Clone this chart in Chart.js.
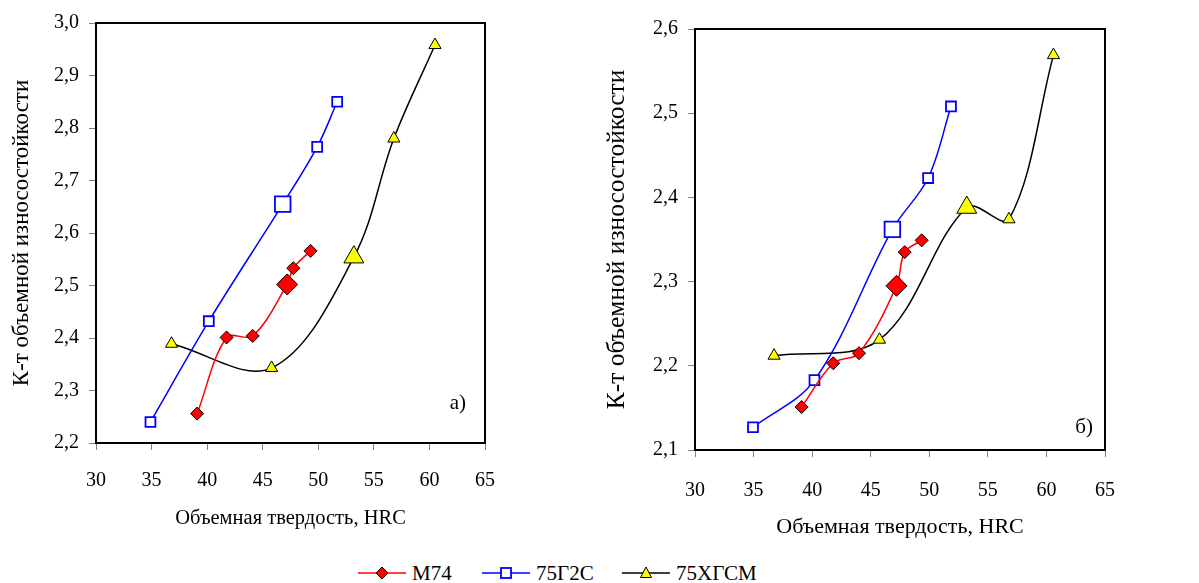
<!DOCTYPE html>
<html>
<head>
<meta charset="utf-8">
<script src="https://cdn.jsdelivr.net/npm/chart.js@4/dist/chart.umd.min.js"></script>
<style>
  body { margin: 0; background: #fff; width: 1199px; height: 583px; position: relative; overflow: hidden; font-family: "Liberation Serif", "Times New Roman", serif; }
  canvas { position: absolute; top: 0; }
  #chart-a { left: 0; }
  #chart-b { left: 600px; }
  .leg { position: absolute; top: 561px; height: 24px; display: flex; align-items: center; font-size: 21px; color: #000; }
  .leg svg { margin-right: 6px; }
</style>
</head>
<body>
<canvas id="chart-a" width="514" height="540"></canvas>
<canvas id="chart-b" width="537" height="550"></canvas>
<div class="leg" style="left:358px"><svg width="48" height="20"><line x1="0" y1="10" x2="48" y2="10" stroke="#ff0000" stroke-width="1.5"/><polygon points="24,4 30,10 24,16 18,10" fill="#ff0000" stroke="#000" stroke-width="1"/></svg>М74</div>
<div class="leg" style="left:482px"><svg width="48" height="20"><line x1="0" y1="10" x2="48" y2="10" stroke="#0000ff" stroke-width="1.5"/><rect x="19" y="5" width="10" height="10" fill="#fff" stroke="#0000ff" stroke-width="1.8"/></svg>75Г2С</div>
<div class="leg" style="left:622px"><svg width="48" height="20"><line x1="0" y1="10" x2="48" y2="10" stroke="#000" stroke-width="1.5"/><polygon points="24,4 29.5,14.5 18.5,14.5" fill="#ffff00" stroke="#000" stroke-width="1"/></svg>75ХГСМ</div>
<script>
// Series names
const seriesNames = ['М74', '75Г2С', '75ХГСМ'];

// Chart a) - HRC values and wear-resistance coefficients
const hrcM74A = [39.1, 41.75, 44.1, 47.2, 47.75, 49.3];
const kM74A = [2.256, 2.401, 2.404, 2.502, 2.533, 2.566];
const hrcG2SA = [34.9, 40.15, 46.8, 49.9, 51.7];
const kG2SA = [2.240, 2.432, 2.655, 2.764, 2.850];
const hrcXGSMA = [36.8, 45.8, 53.2, 56.8, 60.5];
const kXGSMA = [2.389, 2.343, 2.554, 2.780, 2.958];

// Chart б)
const hrcM74B = [39.1, 41.8, 44.0, 47.2, 47.9, 49.35];
const kM74B = [2.151, 2.203, 2.215, 2.295, 2.335, 2.349];
const hrcG2SB = [34.95, 40.2, 46.85, 49.9, 51.85];
const kG2SB = [2.127, 2.183, 2.362, 2.423, 2.508];
const hrcXGSMB = [36.75, 45.75, 53.2, 56.8, 60.6];
const kXGSMB = [2.212, 2.231, 2.388, 2.374, 2.569];

// index of the enlarged point in each series
const bigPoint = [3, 2, 2];

// axis ticks
const xTicks = [30, 35, 40, 45, 50, 55, 60, 65];
const yTicksA = [2.2, 2.3, 2.4, 2.5, 2.6, 2.7, 2.8, 2.9, 3.0];
const yTicksB = [2.1, 2.2, 2.3, 2.4, 2.5, 2.6];

const xTitle = 'Объемная твердость, HRC';
const yTitle = 'К-т объемной износостойкости';

const serif = '"Liberation Serif", "Times New Roman", serif';

function pts(xs, ys) {
    return xs.map((x, i) => ({ x: x, y: ys[i] }));
}

function buildDatasets(m74, g2s, xgsm) {
    return [
        {
            label: seriesNames[0], data: m74,
            borderColor: '#ff0000', borderWidth: 1.5,
            pointStyle: 'rectRot', backgroundColor: '#ff0000',
            pointBorderColor: '#000', pointBorderWidth: 1,
            pointRadius: c => c.dataIndex === bigPoint[0] ? 10.5 : 6.5
        },
        {
            label: seriesNames[1], data: g2s,
            borderColor: '#0000ff', borderWidth: 1.5,
            pointStyle: 'rect', backgroundColor: '#ffffff',
            pointBorderColor: '#0000ff', pointBorderWidth: 1.8,
            pointRadius: c => c.dataIndex === bigPoint[1] ? 11 : 7
        },
        {
            label: seriesNames[2], data: xgsm,
            borderColor: '#000000', borderWidth: 1.5,
            pointStyle: 'triangle', backgroundColor: '#ffff00',
            pointBorderColor: '#000', pointBorderWidth: 1,
            pointRadius: c => c.dataIndex === bigPoint[2] ? 11.5 : 7
        }
    ];
}

// draws the box around the plot and the a)/б) mark
const framePlugin = {
    id: 'frame',
    afterDraw(chart, args, opts) {
        const a = chart.chartArea;
        const ctx = chart.ctx;
        ctx.save();
        ctx.strokeStyle = '#000';
        ctx.lineWidth = 2;
        ctx.strokeRect(a.left, a.top, a.right - a.left, a.bottom - a.top);
        ctx.font = '21px ' + serif;
        ctx.fillStyle = '#000';
        ctx.textAlign = 'right';
        ctx.textBaseline = 'middle';
        ctx.fillText(opts.mark, a.right - opts.dx, a.bottom - opts.dy);
        ctx.restore();
    }
};

function makeChart(id, datasets, yTicks, cfg) {
    const ctx = document.getElementById(id).getContext('2d');
    return new Chart(ctx, {
        type: 'line',
        data: { datasets: datasets },
        plugins: [framePlugin],
        options: {
            responsive: false,
            animation: false,
            devicePixelRatio: 1,
            tension: 0.35,
            layout: { padding: { left: 0, top: cfg.top, right: cfg.right, bottom: 0 } },
            plugins: {
                legend: { display: false },
                tooltip: { enabled: false },
                frame: { mark: cfg.mark, dx: cfg.markDx, dy: cfg.markDy }
            },
            scales: {
                x: {
                    type: 'linear',
                    min: xTicks[0], max: xTicks[xTicks.length - 1],
                    afterBuildTicks: s => { s.ticks = xTicks.map(v => ({ value: v })); },
                    afterFit: s => { s.height = cfg.xHeight; },
                    grid: { drawOnChartArea: false, drawTicks: true, tickLength: 7, color: '#808080' },
                    border: { display: false },
                    ticks: { color: '#000', font: { family: serif, size: 20 }, padding: cfg.xPad, maxRotation: 0 },
                    title: { display: true, text: xTitle, color: '#000', font: { family: serif, size: cfg.xTitleSize }, padding: { top: cfg.xTitlePad, bottom: cfg.xTitlePad } }
                },
                y: {
                    type: 'linear',
                    min: yTicks[0], max: yTicks[yTicks.length - 1],
                    afterBuildTicks: s => { s.ticks = yTicks.map(v => ({ value: v })); },
                    afterFit: s => { s.width = cfg.yWidth; },
                    grid: { drawOnChartArea: false, drawTicks: true, tickLength: 7, color: '#808080' },
                    border: { display: false },
                    ticks: { color: '#000', font: { family: serif, size: 20 }, padding: 10,
                             callback: v => v.toFixed(1).replace('.', ',') },
                    title: { display: true, text: yTitle, color: '#000', font: { family: serif, size: cfg.yTitleSize }, padding: { top: cfg.yTitlePad, bottom: cfg.yTitlePad } }
                }
            }
        }
    });
}

makeChart('chart-a',
    buildDatasets(pts(hrcM74A, kM74A), pts(hrcG2SA, kG2SA), pts(hrcXGSMA, kXGSMA)),
    yTicksA,
    { top: 23, right: 15, xHeight: 97, yWidth: 96, xPad: 19, xTitleSize: 20.5, yTitleSize: 23, xTitlePad: 9, yTitlePad: 8,
      mark: 'а)', markDx: 19, markDy: 40 });

makeChart('chart-b',
    buildDatasets(pts(hrcM74B, kM74B), pts(hrcG2SB, kG2SB), pts(hrcXGSMB, kXGSMB)),
    yTicksB,
    { top: 29, right: 14, xHeight: 100, yWidth: 95, xPad: 22, xTitleSize: 22, yTitleSize: 25.5, xTitlePad: 10, yTitlePad: 2,
      mark: 'б)', markDx: 12, markDy: 23 });
</script>
</body>
</html>
